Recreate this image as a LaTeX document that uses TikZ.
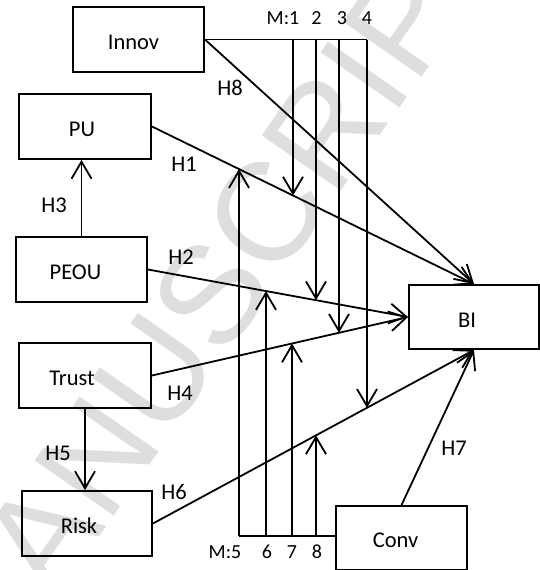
\documentclass[tikz,border=0pt]{standalone}
\usepackage{fontspec}
\setmainfont{Carlito}
\newfontfamily\markfont{Liberation Sans}
\usetikzlibrary{arrows.meta,intersections}

\begin{document}
\begin{tikzpicture}[x=1pt,y=-1pt,
  box/.style={draw, line width=1.9pt, minimum width=131pt, minimum height=65pt,
    inner sep=0pt, text height=20pt, text depth=0pt,
    font=\fontsize{22.5}{27}\selectfont},
  nudge/.style={execute at begin node={\kern-#1}},
  ln/.style={line width=1.8pt},
  arr/.style={line width=1.8pt, -{Straight Barb[length=17pt,width=20pt]}},
  hlab/.style={inner sep=0pt, font=\fontsize{22.5}{27}\selectfont},
  mlab/.style={inner sep=0pt, font=\fontsize{20}{24}\selectfont}
]
\useasboundingbox (0,0) rectangle (540,570);

% faint diagonal stamp behind the model
\begin{scope}
  \clip (0,0) rectangle (540,570);
  \node[inner sep=0pt, text=black!13, rotate=55,
        font=\markfont\fontsize{140}{140}\selectfont] (stamp) at (213,291) {MANUSCRIPT};
\end{scope}

% constructs
\node[box, nudge=10pt] (Innov) at (138.5,39.5) {Innov};
\node[box, minimum width=132pt, nudge=6pt] (PU) at (85,126.5) {PU};
\node[box, nudge=12pt] (PEOU) at (81.5,269.5) {PEOU};
\node[box, minimum width=132pt, nudge=26pt] (Trust) at (85,375.5) {Trust};
\node[box, minimum width=130pt, nudge=16pt] (Risk) at (87,523.5) {Risk};
\node[box, minimum width=130pt, minimum height=64pt, nudge=14pt] (BI) at (474,317) {BI};
\node[box, minimum height=63.5pt, nudge=12pt] (Conv) at (401.5,537.75) {Conv};

% hypothesised paths
\draw[arr, name path=h8] (Innov.east) -- (BI.north);
\draw[arr, name path=h1] (PU.east) -- (BI.north);
\draw[arr, name path=h2] (PEOU.east) -- (BI.west);
\draw[arr, name path=h4] (Trust.east) -- (BI.west);
\draw[arr, name path=h6] (Risk.east) -- (BI.south);
\draw[arr] (Conv.north) -- (BI.south);
\draw[arr] (PEOU.north) -- (PEOU.north |- PU.south);
\draw[arr] (Trust.south) -- (Trust.south |- Risk.north);

% moderators from Innov (top bar)
\coordinate (m1) at (293,39.5);
\coordinate (m2) at (316,39.5);
\coordinate (m3) at (339,39.5);
\coordinate (m4) at (367,39.5);
\draw[ln] (Innov.east) -- (m4);

% moderators from Conv (bottom bar)
\coordinate (m5) at (239,536);
\coordinate (m6) at (266,536);
\coordinate (m7) at (292,536);
\coordinate (m8) at (316,536);
\draw[ln] (m5) -- (m5 -| Conv.west);

% vertical guides for locating the moderator tips on the paths
\path[name path=v1] (m1) -- ++(0,540);
\path[name path=v2] (m2) -- ++(0,540);
\path[name path=v3] (m3) -- ++(0,540);
\path[name path=v4] (m4) -- ++(0,540);
\path[name path=v5] (m5) -- ++(0,-530);
\path[name path=v6] (m6) -- ++(0,-530);
\path[name path=v7] (m7) -- ++(0,-530);
\path[name path=v8] (m8) -- ++(0,-530);
\path[name intersections={of=v1 and h1, by=t1}];
\path[name intersections={of=v2 and h2, by=t2}];
\path[name intersections={of=v3 and h4, by=t3}];
\path[name intersections={of=v4 and h6, by=t4}];
\path[name intersections={of=v5 and h1, by=t5}];
\path[name intersections={of=v6 and h2, by=t6}];
\path[name intersections={of=v7 and h4, by=t7}];
\path[name intersections={of=v8 and h6, by=t8}];
\draw[arr] (m1) -- (t1);
\draw[arr] (m2) -- (t2);
\draw[arr] (m3) -- (t3);
\draw[arr] (m4) -- (t4);
\draw[arr] (m5) -- (t5);
\draw[arr] (m6) -- (t6);
\draw[arr] (m7) -- (t7);
\draw[arr] (m8) -- (t8);

% path labels
\node[hlab] (lH8) at (230,88) {H8};
\node[hlab] (lH1) at (184,164) {H1};
\node[hlab] (lH3) at (54,205) {H3};
\node[hlab] (lH2) at (181,257) {H2};
\node[hlab] (lH4) at (180,393) {H4};
\node[hlab] (lH5) at (58,453) {H5};
\node[hlab] (lH6) at (174,492) {H6};
\node[hlab] (lH7) at (454,448) {H7};

% moderator numbers
\node[mlab] (lM1) at (283,18) {M:1};
\node[mlab] (lM2) at (316.5,18) {2};
\node[mlab] (lM3) at (342,18) {3};
\node[mlab] (lM4) at (367,18) {4};
\node[mlab] (lM5) at (225,552) {M:5};
\node[mlab] (lM6) at (267,552) {6};
\node[mlab] (lM7) at (292,552) {7};
\node[mlab] (lM8) at (317,552) {8};
\end{tikzpicture}
\end{document}
